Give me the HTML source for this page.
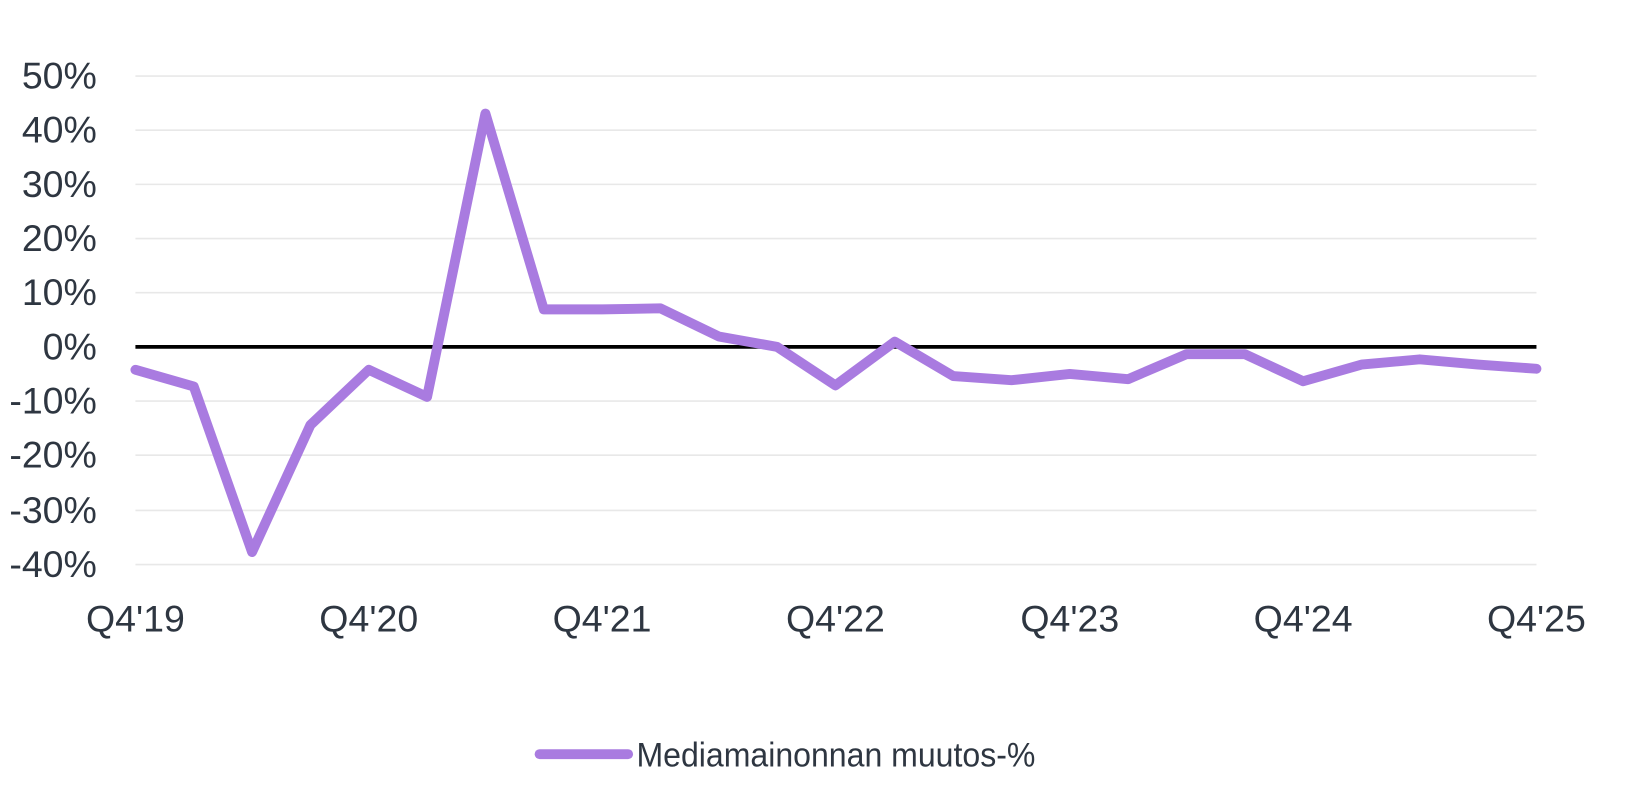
<!DOCTYPE html>
<html><head><meta charset="utf-8"><style>
html,body{margin:0;padding:0;background:#fff;}
svg{display:block;}
text{font-family:"Liberation Sans",sans-serif;fill:#2e3641;font-size:36px;}
</style></head><body>
<svg width="1625" height="810" viewBox="0 0 1560 777.6" preserveAspectRatio="none">
<g stroke="#e8e8e8" stroke-width="1.5">
<line x1="130" x2="1475" y1="73" y2="73"/>
<line x1="130" x2="1475" y1="125" y2="125"/>
<line x1="130" x2="1475" y1="177" y2="177"/>
<line x1="130" x2="1475" y1="229" y2="229"/>
<line x1="130" x2="1475" y1="281" y2="281"/>
<line x1="130" x2="1475" y1="385" y2="385"/>
<line x1="130" x2="1475" y1="437" y2="437"/>
<line x1="130" x2="1475" y1="490" y2="490"/>
<line x1="130" x2="1475" y1="542" y2="542"/>
</g>
<line x1="130" x2="1475" y1="333" y2="333" stroke="#000" stroke-width="3.5"/>
<g text-anchor="end">
<text x="93" y="85">50%</text>
<text x="93" y="137">40%</text>
<text x="93" y="189">30%</text>
<text x="93" y="241">20%</text>
<text x="93" y="293">10%</text>
<text x="93" y="345">0%</text>
<text x="93" y="397">-10%</text>
<text x="93" y="449">-20%</text>
<text x="93" y="502">-30%</text>
<text x="93" y="554">-40%</text>
</g>
<g text-anchor="middle">
<text x="130" y="606">Q4'19</text>
<text x="354" y="606">Q4'20</text>
<text x="578" y="606">Q4'21</text>
<text x="802" y="606">Q4'22</text>
<text x="1027" y="606">Q4'23</text>
<text x="1251" y="606">Q4'24</text>
<text x="1475" y="606">Q4'25</text>
</g>
<polyline fill="none" stroke="#a97be0" stroke-width="9.5" stroke-linejoin="round" stroke-linecap="round"
points="130,355 186,371 242,530 298,408 354,355 410,381 466,109 522,297 578,297 634,296 690,323 746,333 802,370 859,328 915,361 971,365 1027,359 1083,364 1139,340 1195,340 1251,366 1307,350 1363,345 1419,350 1475,354"/>
<line x1="518" x2="603" y1="724" y2="724" stroke="#a97be0" stroke-width="9.5" stroke-linecap="round"/>
<text x="611" y="736" style="font-size:33px" textLength="383" lengthAdjust="spacingAndGlyphs">Mediamainonnan muutos-%</text>
</svg>
</body></html>
